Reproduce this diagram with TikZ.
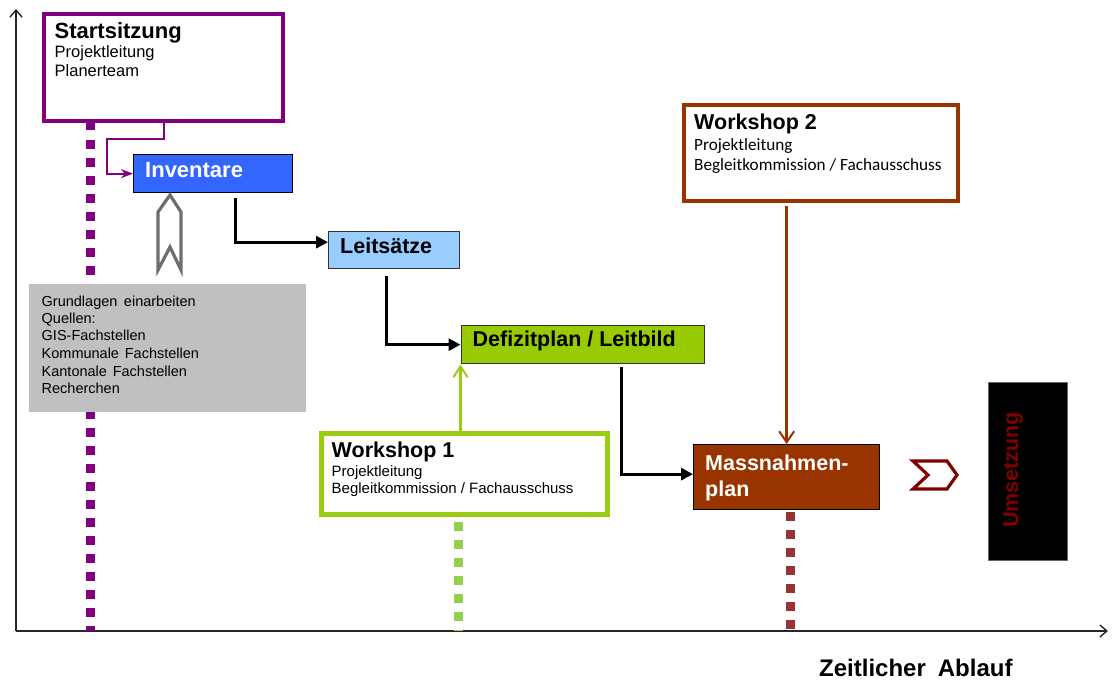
\documentclass[tikz,border=0pt]{standalone}
\usepackage{fontspec}
\setmainfont{Liberation Sans}
\newfontfamily\carl{Carlito}
\usetikzlibrary{arrows.meta,calc}
\definecolor{cpurple}{HTML}{800080}
\definecolor{cblue}{HTML}{3366FF}
\definecolor{clblue}{HTML}{99CCFF}
\definecolor{cgreen}{HTML}{99CC00}
\definecolor{clime}{HTML}{9ACD12}
\definecolor{cgdot}{HTML}{92D050}
\definecolor{cbrown}{HTML}{993300}
\definecolor{cbdot}{HTML}{993333}
\definecolor{cdred}{HTML}{800000}
\definecolor{cgray}{HTML}{C0C0C0}
\definecolor{cdgray}{HTML}{6E6E6E}
\newcommand{\fs}[1]{\fontsize{#1}{#1}\selectfont}
\begin{document}
\begin{tikzpicture}[x=1pt,y=-1pt,
  box/.style={draw, rectangle, inner sep=0, anchor=north west},
  txt/.style={anchor=base west, inner sep=0},
  conn/.style={line width=3pt, -{Triangle[length=12pt,width=12pt]}},
  dotline/.style={line width=9.5pt, dash pattern=on 8.5pt off 9.5pt},
  axis/.style={line width=1.6pt, draw=black!85, -{Straight Barb[length=7pt,width=12pt,line width=1.4pt]}}
]
\useasboundingbox (0,0) rectangle (1113,682);
% axes
\coordinate (O) at (16,631);
\coordinate (ytop) at (16,9);
\coordinate (xend) at (1108,631);
\draw[axis] (O) -- (ytop);
\draw[axis] (O) -- (xend);
\node[txt, font=\fs{24}\bfseries] (zeit) at (819,676) {Zeitlicher\hspace{0.5em}Ablauf};

% boxes
\node[box, draw=cpurple, line width=4pt, fill=white, minimum width=239, minimum height=106.5] (start) at (42,12.5) {};
\node[box, draw=black, line width=1.3pt, fill=cblue, minimum width=159, minimum height=38] (inv) at (133,154) {};
\node[box, draw=black!80, line width=1.3pt, fill=clblue, minimum width=131, minimum height=37] (leit) at (328,231) {};
\node[box, draw=black!80, line width=1.3pt, fill=cgreen, minimum width=243.5, minimum height=38] (def) at (460.5,325) {};
\node[box, draw=clime, line width=5pt, fill=white, minimum width=286, minimum height=81] (w1) at (319,431) {};
\node[box, draw=cbrown, line width=4pt, fill=white, minimum width=273.5, minimum height=95.5] (w2) at (682,103.5) {};
\node[box, draw=black, line width=1.3pt, fill=cbrown, minimum width=186, minimum height=65] (mass) at (693,444) {};
\node[box, draw=black!60, line width=0.8pt, fill=black, minimum width=79, minimum height=178] (ums) at (988,382) {};

% dotted timelines
\coordinate (pd) at (90.5,631);
\coordinate (gd) at (458.7,631);
\coordinate (bd) at (790.5,631);
\draw[dotline, draw=cpurple] (90.5,122) -- (pd);
\draw[dotline, draw=cgdot] (458.7,522) -- (gd);
\draw[dotline, draw=cbdot] (790.5,512) -- (bd);

% gray box
\node[box, draw=none, fill=cgray, minimum width=277, minimum height=128] (grund) at (29,284) {};

% texts
\node[txt, font=\fs{22}\bfseries] at (54.5,39) {Startsitzung};
\node[txt, font=\fs{16.5}] at (54.5,58) {Projektleitung};
\node[txt, font=\fs{16.5}] at (54.5,76.5) {Planerteam};

\node[txt, font=\fs{22}\bfseries, text=white] at (145,177) {Inventare};
\node[txt, font=\fs{21.5}\bfseries] at (340,253) {Leitsätze};
\node[txt, font=\fs{21.5}\bfseries] at (472.5,346.5) {Defizitplan / Leitbild};

\node[txt, font=\fs{21.5}\bfseries] at (331.5,457.5) {Workshop 1};
\node[txt, font=\fs{15}] at (331.5,476.5) {Projektleitung};
\node[txt, font=\fs{15}] at (331.5,493.5) {Begleitkommission / Fachausschuss};

\node[txt, font=\fs{21.5}\bfseries] at (694,130) {Workshop 2};
\node[txt, font=\carl\fs{17.2}] at (694,150.5) {Projektleitung};
\node[txt, font=\carl\fs{17.2}] at (694,170.5) {Begleitkommission / Fachausschuss};

\node[txt, font=\fs{21.5}\bfseries, text=white] at (705,470.5) {Massnahmen-};
\node[txt, font=\fs{21.5}\bfseries, text=white] at (705,496) {plan};

\node[rotate=90, inner sep=0, font=\fs{21.5}\bfseries, text=cdred] (umstxt) at (1013,470) {Umsetzung};

\foreach \t/\yy in {Grundlagen\hspace{0.45em}einarbeiten/306.5, Quellen:/323, GIS-Fachstellen/340.5, Kommunale\hspace{0.4em}Fachstellen/358.5, Kantonale\hspace{0.4em}Fachstellen/376, Recherchen/393}
  \node[txt, font=\fs{14.5}] at (41.5,\yy) {\t};

% connectors
\draw[cpurple, line width=2pt, -{Stealth[length=12pt,width=9pt]}]
  (start.south) -- ++(0,16) -| ++(-57,0) |- (inv.west);
\draw[conn] ([xshift=-58pt,yshift=-5pt]inv.south east) |- ([yshift=8pt]leit.west);
\draw[conn] ([xshift=58pt,yshift=-7pt]leit.south west) |- (def.west);
\draw[conn] ([xshift=161pt,yshift=-3pt]def.south west) |- ([yshift=3pt]mass.west);
\draw[clime, line width=2.4pt, -{Straight Barb[length=11pt,width=14pt,line width=2pt]}]
  (w1.north -| def.south west) -- (def.south west);
\draw[cbrown, line width=2.4pt, -{Straight Barb[length=11pt,width=15pt,line width=2pt]}]
  ([yshift=-3pt]w2.south -| mass.north) -- (mass.north);

% block arrow (hollow, up) from Grundlagen to Inventare
\draw[cdgray, line width=3.2pt, line join=miter]
  (170,195) -- (181,212) -- (181,270) -- (170,247) -- (158,270) -- (158,212) -- cycle;
% chevron
\draw[cdred, line width=3.2pt, line join=miter]
  (913,461) -- (947,461) -- (957,475) -- (947,489) -- (913,489) -- (928,475) -- cycle;
\end{tikzpicture}
\end{document}
